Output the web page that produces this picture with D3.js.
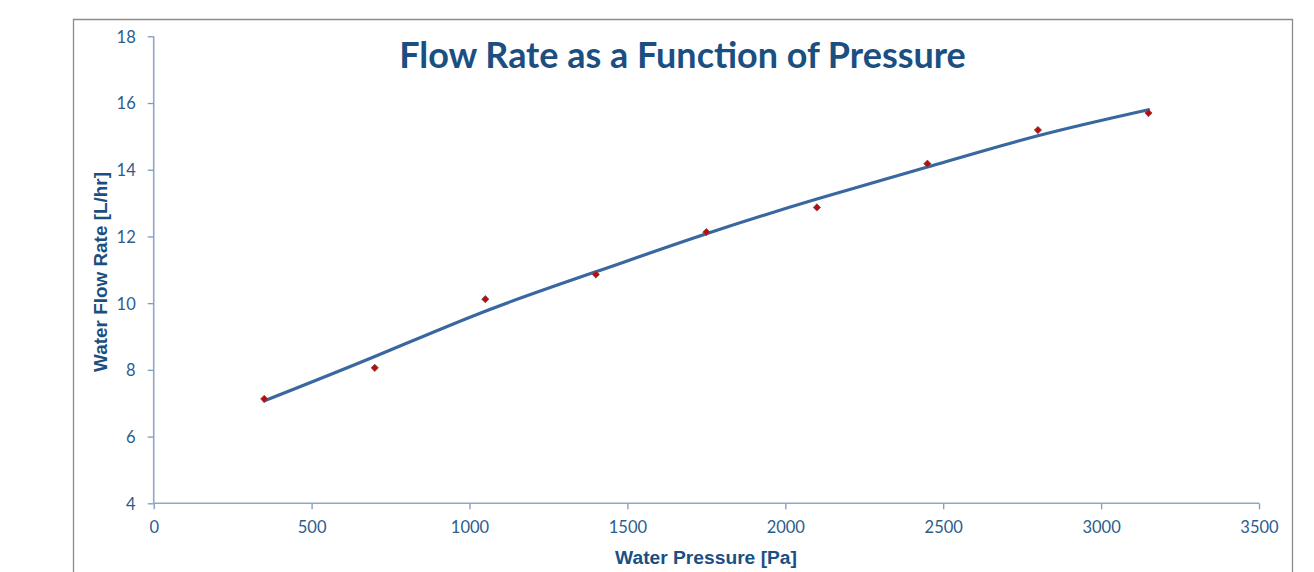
<!DOCTYPE html>
<html><head><meta charset="utf-8">
<script src="https://cdn.jsdelivr.net/npm/d3@7"></script>
<style>html,body{margin:0;padding:0;background:#fff;}svg{display:block;}</style>
</head><body>
<svg id="chart" width="1314" height="572"></svg>
<script>
const pressure = [350, 700, 1050, 1400, 1750, 2100, 2450, 2800, 3150];
const flowRate = [7.13, 8.06, 10.12, 10.86, 12.13, 12.87, 14.18, 15.19, 15.70];
const trendX = [350, 700, 1050, 1400, 1750, 2100, 2450, 2800, 3150];
const trendY = [7.07, 8.40, 9.76, 10.94, 12.08, 13.12, 14.08, 15.02, 15.80];
const xTicks = [0, 500, 1000, 1500, 2000, 2500, 3000, 3500];
const yTicks = [4, 6, 8, 10, 12, 14, 16, 18];
const title = "Flow Rate as a Function of Pressure";
const xTitle = "Water Pressure [Pa]";
const yTitle = "Water Flow Rate [L/hr]";

const svg = d3.select("#chart");
const axisColor = "#8fa8c8";
const labelColor = "#2c5d8e";
const titleColor = "#1b4f82";

// outer chart border
svg.append("path").attr("d", "M73.5,600 V19.5 H1292.5 V600")
  .attr("fill", "none").attr("stroke", "#8c8c8c").attr("stroke-width", 1.3);

const x = d3.scaleLinear().domain([0, 3500]).range([153.7, 1259]);
const y = d3.scaleLinear().domain([4, 18]).range([503.3, 36.3]);

const xAxis = svg.append("g").attr("transform", `translate(0,${y(4)})`)
  .call(d3.axisBottom(x).tickValues(xTicks).tickSize(6).tickPadding(12).tickFormat(d3.format("d")));
const yAxis = svg.append("g").attr("transform", `translate(${x(0)},0)`)
  .call(d3.axisLeft(y).tickValues(yTicks).tickSize(6).tickPadding(12).tickFormat(d3.format("d")));
[xAxis, yAxis].forEach(g => {
  g.selectAll("path.domain").attr("stroke", axisColor).attr("stroke-width", 1.6);
  g.selectAll(".tick line").attr("stroke", "#7d9ac0").attr("stroke-width", 1.3);
  g.selectAll(".tick text").attr("fill", labelColor)
    .style("font-family", "Lato, 'Open Sans', sans-serif").style("font-size", "16.5px");
});
xAxis.selectAll("path.domain").attr("d", `M${x(0)},0H${x(3500)}`);
yAxis.selectAll("path.domain").attr("d", `M0,${y(4)}V${y(18)}`);
yAxis.selectAll(".tick text").attr("dy", "0.36em");

// trend line
const line = d3.line().x(d => x(d[0])).y(d => y(d[1])).curve(d3.curveNatural);
svg.append("path").datum(trendX.map((v, i) => [v, trendY[i]]))
  .attr("d", line).attr("fill", "none").attr("stroke", "#39679f")
  .attr("stroke-width", 3.2).attr("stroke-linecap", "round");

// data markers (square diamonds)
const sym = d3.symbol().type(d3.symbolSquare).size(26);
svg.append("g").selectAll("path").data(pressure.map((v, i) => [v, flowRate[i]]))
  .join("path").attr("d", sym)
  .attr("transform", d => `translate(${x(d[0])},${y(d[1])}) rotate(45)`)
  .attr("fill", "#be0a0a").attr("stroke", "#7a4a4a").attr("stroke-width", 0.8);

function fit(sel, w) {
  const n = sel.node();
  const cur = n.getComputedTextLength();
  const fs = parseFloat(sel.style("font-size"));
  sel.style("font-size", (fs * w / cur) + "px");
}

const t = svg.append("text").attr("x", 682.5).attr("y", 68).attr("text-anchor", "middle")
  .attr("fill", titleColor).style("font-family", "Lato, 'Open Sans', sans-serif")
  .style("font-weight", "bold").style("font-size", "30px").text(title);
fit(t, 567);

const xt = svg.append("text").attr("x", 706).attr("y", 564).attr("text-anchor", "middle")
  .attr("fill", titleColor).style("font-family", "'Liberation Sans', Arial, sans-serif")
  .style("font-weight", "bold").style("font-size", "16px").text(xTitle);
fit(xt, 182);

const yt = svg.append("text").attr("transform", "translate(107,272) rotate(-90)")
  .attr("text-anchor", "middle")
  .attr("fill", titleColor).style("font-family", "'Liberation Sans', Arial, sans-serif")
  .style("font-weight", "bold").style("font-size", "16px").text(yTitle);
fit(yt, 200);
</script>
</body></html>
